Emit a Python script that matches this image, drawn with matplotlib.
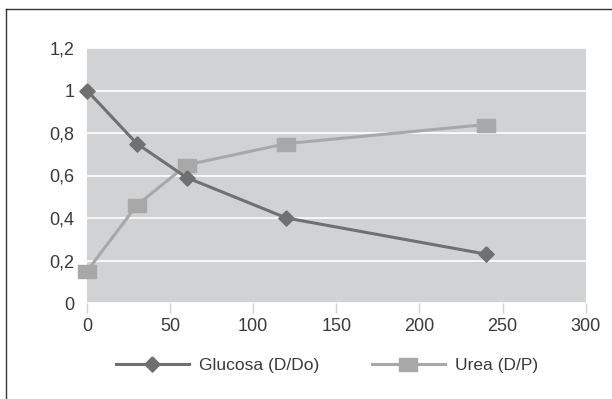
import matplotlib.pyplot as plt
from matplotlib.lines import Line2D
from matplotlib.ticker import FuncFormatter

# Time (min) and dialysate ratios
tiempo = [0, 30, 60, 120, 240]
glucosa = [1.0, 0.75, 0.59, 0.40, 0.23]
urea = [0.15, 0.46, 0.65, 0.75, 0.84]

x_ticks = [0, 50, 100, 150, 200, 250, 300]
y_ticks = [0, 0.2, 0.4, 0.6, 0.8, 1.0, 1.2]

plt.rcParams['font.family'] = ['Liberation Sans', 'DejaVu Sans']

W, H = 612, 399
fig = plt.figure(figsize=(W / 100, H / 100), dpi=100)
ax = fig.add_axes([87 / W, 1 - 303 / H, (585.7 - 87) / W, (303 - 48) / H])
ax.set_facecolor('#d1d2d4')

diamond = [(0, 1), (1, 0), (0, -1), (-1, 0), (0, 1)]
rect = [(-1, -0.72), (1, -0.72), (1, 0.72), (-1, 0.72), (-1, -0.72)]

ax.plot(tiempo, glucosa, color='#707070', lw=2.2, marker=diamond,
        markersize=11, label='Glucosa (D/Do)', zorder=3, clip_on=False)
ax.plot(tiempo, urea, color='#a8a8a8', lw=2.2, marker=rect,
        markersize=13, label='Urea (D/P)', zorder=2, clip_on=False)

ax.set_xlim(0, 300)
ax.set_ylim(0, 1.2)
ax.set_xticks(x_ticks)
ax.set_yticks(y_ticks)
ax.yaxis.set_major_formatter(FuncFormatter(lambda v, p: f'{v:g}'.replace('.', ',')))
ax.grid(axis='y', color='white', lw=1.2)
ax.set_axisbelow(True)
for s in ax.spines.values():
    s.set_visible(False)
ax.tick_params(axis='y', length=0, pad=9, labelsize=13, labelcolor='#3a3a3a')
ax.tick_params(axis='x', length=7, width=1, color='#d1d2d4', pad=4,
               labelsize=13, labelcolor='#3a3a3a')

fig.legend(loc='center', bbox_to_anchor=(327 / W, 1 - 365 / H), ncol=2,
           frameon=False, fontsize=12.5, handlelength=4.2, handletextpad=0.6,
           columnspacing=3.0, labelcolor='#3a3a3a')

# outer frame on the left and top
fig.add_artist(Line2D([6 / W, 6 / W], [0, 1 - 9 / H], color='#333333', lw=1))
fig.add_artist(Line2D([6 / W, 1], [1 - 9 / H, 1 - 9 / H], color='#333333', lw=1))

fig.savefig('out.png', dpi=100)
